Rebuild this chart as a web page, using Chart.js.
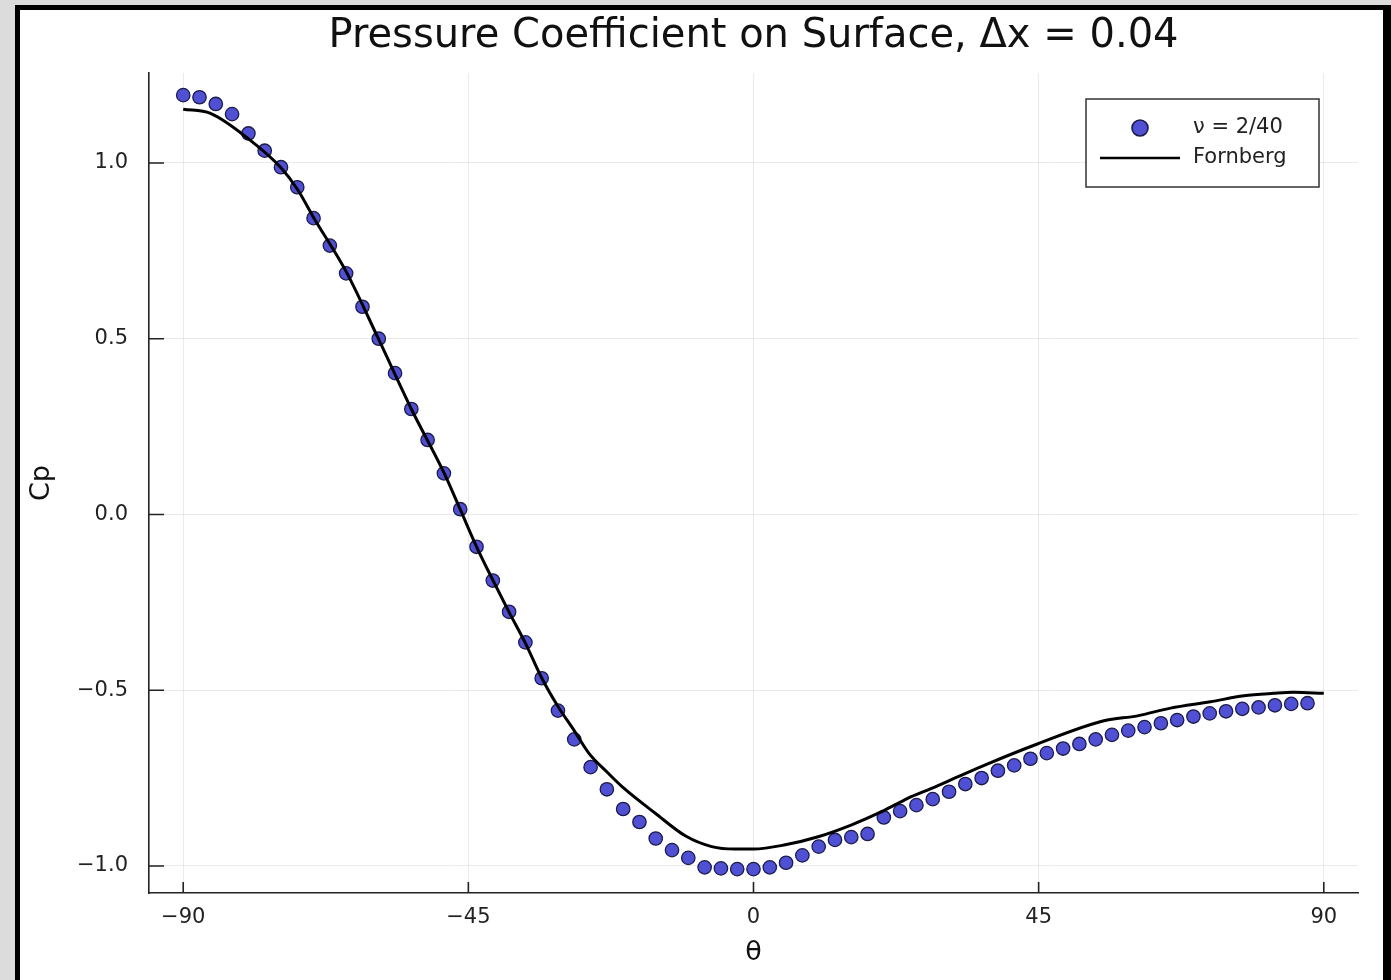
<!DOCTYPE html>
<html><head><meta charset="utf-8">
<script src="https://cdn.jsdelivr.net/npm/chart.js@4.4.0/dist/chart.umd.min.js"></script>
<style>
html,body{margin:0;padding:0;background:#dcdcdc;overflow:hidden;width:1391px;height:980px;}
#frame{position:absolute;left:15px;top:5px;width:1363px;height:975px;border-left:5px solid #000;border-top:5px solid #000;border-right:8px solid #000;background:#fff;}
#wrap{position:absolute;left:0;top:0;width:1363px;height:970px;}
canvas{display:block;}
</style></head><body>
<div id="frame"><div id="wrap"><canvas id="c" width="1363" height="970"></canvas></div></div>
<script>
// ---- data ----
const thetaDots = [-90, -87.43, -84.86, -82.29, -79.71, -77.14, -74.57, -72.00, -69.43, -66.86,
  -64.29, -61.71, -59.14, -56.57, -54.00, -51.43, -48.86, -46.29, -43.71, -41.14,
  -38.57, -36.00, -33.43, -30.86, -28.29, -25.71, -23.14, -20.57, -18.00, -15.43,
  -12.86, -10.29, -7.71, -5.14, -2.57, 0, 2.57, 5.14, 7.71, 10.29,
  12.86, 15.43, 18.00, 20.57, 23.14, 25.71, 28.29, 30.86, 33.43, 36.00,
  38.57, 41.14, 43.71, 46.29, 48.86, 51.43, 54.00, 56.57, 59.14, 61.71,
  64.29, 66.86, 69.43, 72.00, 74.57, 77.14, 79.71, 82.29, 84.86, 87.43];
const cpDots = [1.193, 1.187, 1.168, 1.139, 1.084, 1.035, 0.988, 0.931, 0.843, 0.765,
  0.686, 0.591, 0.500, 0.402, 0.300, 0.212, 0.117, 0.015, -0.092, -0.188,
  -0.277, -0.364, -0.466, -0.558, -0.640, -0.719, -0.782, -0.838, -0.875, -0.922,
  -0.955, -0.977, -1.004, -1.007, -1.009, -1.009, -1.004, -0.991, -0.970, -0.945,
  -0.926, -0.918, -0.909, -0.862, -0.844, -0.827, -0.810, -0.789, -0.767, -0.750,
  -0.729, -0.714, -0.695, -0.679, -0.666, -0.653, -0.640, -0.627, -0.615, -0.605,
  -0.594, -0.585, -0.575, -0.566, -0.560, -0.553, -0.549, -0.543, -0.539, -0.537];
const thetaFornberg = [-90, -85.7, -79.6, -74.5, -71.9, -69.5, -64.2, -59.2, -54.0, -48.8,
  -46.3, -43.7, -41.1, -38.6, -36.0, -33.4, -30.9, -28.3, -26.0, -23.0,
  -20.7, -15.5, -10.7, -6.6, -3.0, 0, 5.0, 10.2, 15.5, 19.7,
  22.8, 24.9, 28.0, 32.3, 36.5, 44.8, 55.3, 60.6, 65.8, 72.1,
  77.4, 82.1, 85.2, 90];
const cpFornberg = [1.153, 1.141, 1.067, 0.985, 0.923, 0.847, 0.688, 0.500, 0.300, 0.117,
  0.015, -0.092, -0.188, -0.277, -0.366, -0.466, -0.545, -0.615, -0.679, -0.735,
  -0.775, -0.850, -0.915, -0.945, -0.952, -0.952, -0.940, -0.917, -0.883, -0.850,
  -0.822, -0.803, -0.780, -0.746, -0.713, -0.653, -0.587, -0.573, -0.551, -0.533,
  -0.516, -0.509, -0.506, -0.509];
const xTicks = [-90, -45, 0, 45, 90];
const yTicks = [-1.0, -0.5, 0.0, 0.5, 1.0];
const seriesLabels = ['ν = 2/40', 'Fornberg'];
const titleText = 'Pressure Coefficient on Surface, Δx = 0.04';
const xTitle = 'θ';
const yTitle = 'Cp';

// ---- chart ----
const FONT = "'DejaVu Sans', sans-serif";
const minus = s => s.replace('-', '\u2212');
const fmtX = v => minus(String(v));
const fmtY = v => minus(Number(v).toFixed(1));

const tickPlugin = {
  id: 'inTicks',
  beforeDatasetsDraw(chart) {
    const {ctx, chartArea: a, scales: {x, y}} = chart;
    ctx.save();
    ctx.strokeStyle = '#222';
    ctx.lineWidth = 1.6;
    ctx.beginPath();
    x.ticks.forEach(t => { const p = x.getPixelForValue(t.value); ctx.moveTo(p, a.bottom); ctx.lineTo(p, a.bottom - 11); });
    y.ticks.forEach(t => { const p = y.getPixelForValue(t.value); ctx.moveTo(a.left, p); ctx.lineTo(a.left + 15, p); });
    ctx.stroke();
    ctx.restore();
  }
};

const legendPlugin = {
  id: 'boxLegend',
  afterDraw(chart) {
    const {ctx, chartArea: a} = chart;
    const dots = chart.data.datasets[1], line = chart.data.datasets[0];
    const w = 233, h = 88;
    const left = a.right - 39 - w, top = a.top + 26;
    ctx.save();
    ctx.fillStyle = '#fff';
    ctx.fillRect(left, top, w, h);
    ctx.strokeStyle = '#333';
    ctx.lineWidth = 1.5;
    ctx.strokeRect(left, top, w, h);
    // dots entry
    ctx.beginPath();
    ctx.arc(left + 54, top + 29, 8, 0, Math.PI * 2);
    ctx.fillStyle = dots.pointBackgroundColor;
    ctx.fill();
    ctx.lineWidth = 1.6;
    ctx.strokeStyle = dots.pointBorderColor;
    ctx.stroke();
    // line entry
    ctx.beginPath();
    ctx.moveTo(left + 14, top + 59);
    ctx.lineTo(left + 94, top + 59);
    ctx.strokeStyle = line.borderColor;
    ctx.lineWidth = 2.5;
    ctx.stroke();
    ctx.fillStyle = '#222';
    ctx.font = "21px " + FONT;
    ctx.textBaseline = 'middle';
    ctx.textAlign = 'left';
    ctx.fillText(dots.label, left + 107, top + 29);
    ctx.fillText(line.label, left + 107, top + 59);
    ctx.restore();
  }
};

new Chart(document.getElementById('c').getContext('2d'), {
  type: 'scatter',
  data: {
    datasets: [
      {
        label: seriesLabels[1],
        data: thetaFornberg.map((t, i) => ({x: t, y: cpFornberg[i]})),
        showLine: true, borderColor: '#000', borderWidth: 3, pointRadius: 0,
        cubicInterpolationMode: 'monotone', order: 0, fill: false
      },
      {
        label: seriesLabels[0],
        data: thetaDots.map((t, i) => ({x: t, y: cpDots[i]})),
        showLine: false, pointRadius: 6.7, pointBackgroundColor: '#5050d4',
        pointBorderColor: '#1c1c4c', pointBorderWidth: 1.3, order: 1
      }
    ]
  },
  options: {
    responsive: false, animation: false, devicePixelRatio: 1,
    layout: {padding: {left: 0, right: 25, top: 0, bottom: 0}},
    plugins: {
      legend: {display: false},
      tooltip: {enabled: false},
      title: {
        display: true, text: titleText, fullSize: false, color: '#111',
        font: {family: FONT, size: 40, weight: 'normal', lineHeight: 1},
        padding: {top: 7, bottom: 16}
      }
    },
    scales: {
      x: {
        type: 'linear', min: -95.4, max: 95.4,
        afterBuildTicks: s => { s.ticks = xTicks.map(v => ({value: v})); },
        afterFit: s => { s.height = 87; },
        ticks: {callback: fmtX, font: {family: FONT, size: 21}, color: '#222', padding: 12, maxRotation: 0, autoSkip: false},
        grid: {color: 'rgba(0,0,0,0.08)', drawTicks: false},
        border: {color: '#222', width: 1.6},
        title: {display: true, text: xTitle, color: '#111', font: {family: FONT, size: 27, lineHeight: 1}, padding: {bottom: 14}}
      },
      y: {
        type: 'linear', min: -1.077, max: 1.256,
        afterBuildTicks: s => { s.ticks = yTicks.map(v => ({value: v})); },
        afterFit: s => { s.width = 129; },
        ticks: {callback: fmtY, font: {family: FONT, size: 21}, color: '#222', padding: 21, autoSkip: false},
        grid: {color: 'rgba(0,0,0,0.08)', drawTicks: false},
        border: {color: '#222', width: 1.6},
        title: {display: true, text: yTitle, color: '#111', font: {family: FONT, size: 27, lineHeight: 1}, padding: {top: 8}}
      }
    }
  },
  plugins: [tickPlugin, legendPlugin]
});
</script>
</body></html>
